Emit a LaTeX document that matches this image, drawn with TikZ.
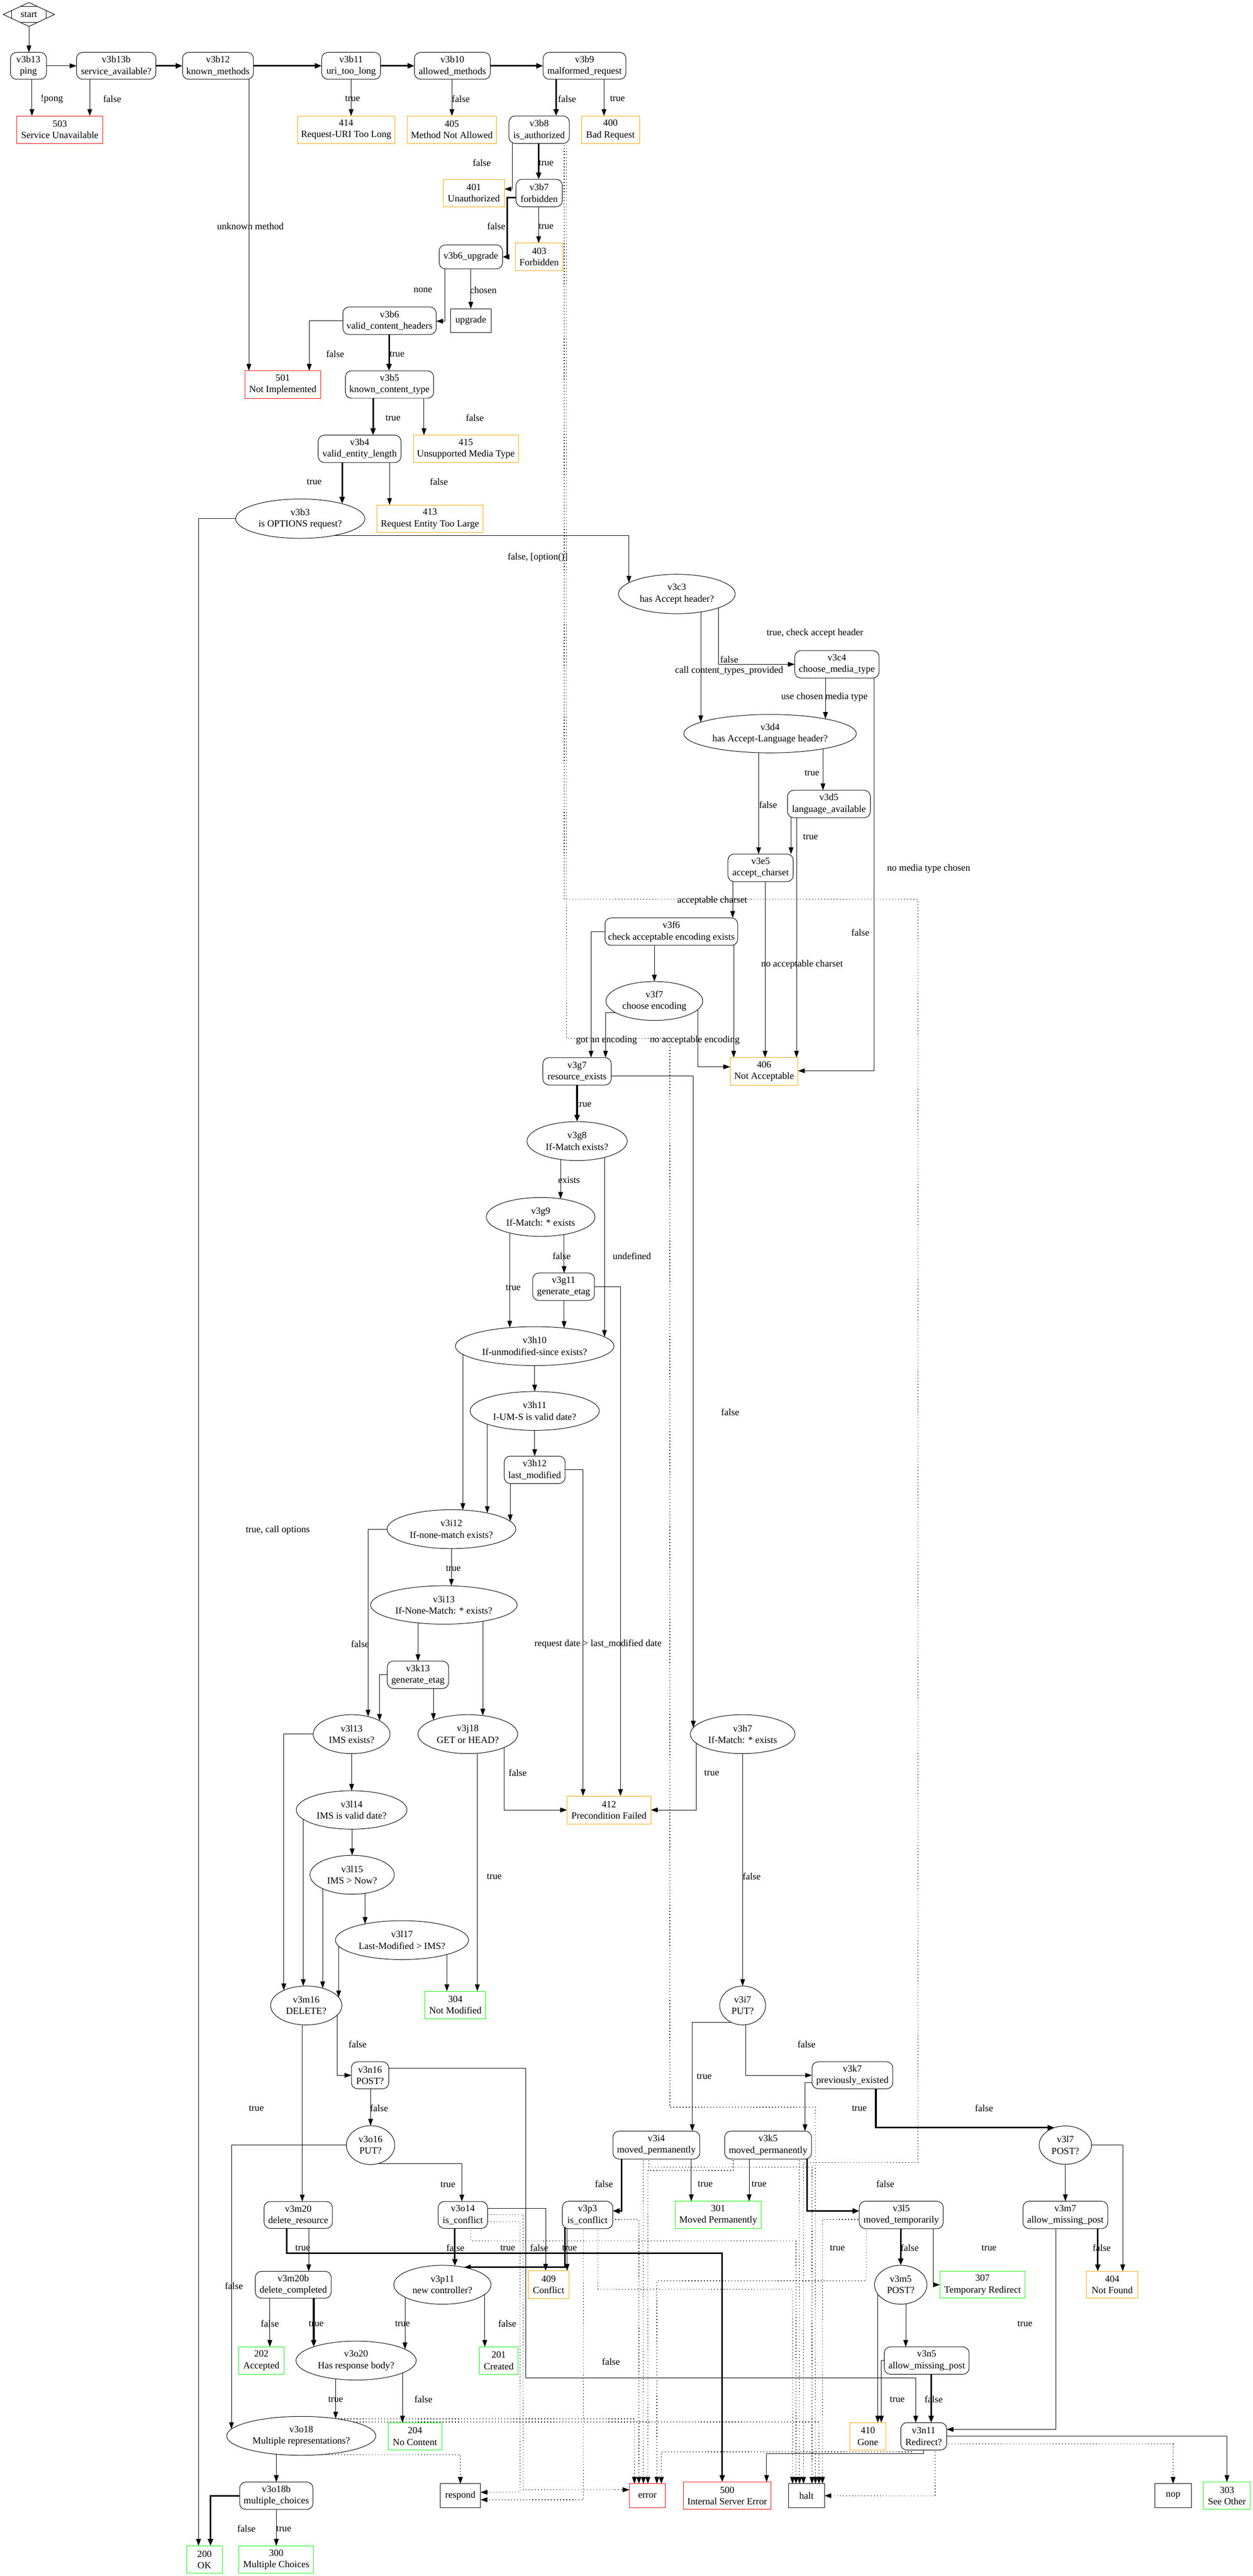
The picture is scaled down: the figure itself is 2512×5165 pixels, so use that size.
\documentclass[tikz,border=0pt]{standalone}
\usepackage{fontspec}
\setmainfont{Liberation Serif}
\usetikzlibrary{shapes.geometric,arrows.meta,calc}
\pgfdeclarelayer{bg}
\pgfsetlayers{bg,main}
\definecolor{stred}{RGB}{255,0,0}
\definecolor{storange}{RGB}{255,165,0}
\definecolor{stgreen}{RGB}{0,255,0}
\newcommand{\fs}{\fontsize{14}{16.8}\selectfont}
\newcommand{\etop}[5]{\coordinate (#1) at ($(#2)+(#3,{-#5*sqrt(1-((#3)/(#4))^2)})$);}
\tikzset{
 base/.style={draw, fill=white, font=\fs, align=center, inner sep=0pt, outer sep=0pt, line width=0.75pt},
 dec/.style={base, rounded corners=9pt},
 ell/.style={base, ellipse},
 sz/.style 2 args={minimum width=#1*0.73pt, minimum height=#2*0.73pt},
 rbox/.style={base, draw=stred},
 obox/.style={base, draw=storange},
 gbox/.style={base, draw=stgreen},
 kbox/.style={base},
 lbl/.style={font=\fs, inner sep=0pt},
 e/.style={line width=0.75pt, -{Triangle[length=10pt,width=7pt]}},
 thk/.style={line width=2.4pt, -{Triangle[length=10pt,width=7.5pt]}},
 dot/.style={line width=0.95pt, dash pattern=on 1.1pt off 3.4pt, -{Triangle[length=10pt,width=7pt]}},
}
\begin{document}
\begin{tikzpicture}[x=0.73pt,y=-0.73pt]
\useasboundingbox (0,0) rectangle (2512,5165);
% ---------- nodes ----------
\node[base, diamond, aspect=2.1, sz={103}{48}] (start) at (58,29) {start};
\draw[line width=0.75pt] ($(start.north)+(-17,8)$) -- ($(start.north)+(17,8)$)
  ($(start.south)+(-17,-8)$) -- ($(start.south)+(17,-8)$)
  ($(start.west)+(17,-8)$) -- ($(start.west)+(17,8)$)
  ($(start.east)+(-17,-8)$) -- ($(start.east)+(-17,8)$);
\node[dec,sz={72}{54}] (v3b13) at (57,132) {v3b13\\ping};
\node[dec,sz={159}{54}] (v3b13b) at (233,132) {v3b13b\\service\_available?};
\node[dec,sz={142}{54}] (v3b12) at (437,132) {v3b12\\known\_methods};
\node[dec,sz={118}{54}] (v3b11) at (704,132) {v3b11\\uri\_too\_long};
\node[dec,sz={152}{54}] (v3b10) at (907,132) {v3b10\\allowed\_methods};
\node[dec,sz={166}{54}] (v3b9) at (1172,132) {v3b9\\malformed\_request};
\node[rbox,sz={172}{55}] (s503) at (120,260) {503\\Service Unavailable};
\node[obox,sz={195}{55}] (s414) at (694,260) {414\\Request-URI Too Long};
\node[obox,sz={179}{55}] (s405) at (906,260) {405\\Method Not Allowed};
\node[dec,sz={121}{55}] (v3b8) at (1081,260) {v3b8\\is\_authorized};
\node[obox,sz={116}{55}] (s400) at (1224,260) {400\\Bad Request};
\node[obox,sz={123}{55}] (s401) at (950,387) {401\\Unauthorized};
\node[dec,sz={93}{55}] (v3b7) at (1081,387) {v3b7\\forbidden};
\node[obox,sz={96}{55}] (s403) at (1081,515) {403\\Forbidden};
\node[dec,sz={127}{48}] (v3b6u) at (944,515) {v3b6\_upgrade};
\node[kbox,sz={81}{48}] (upgrade) at (944,643) {upgrade};
\node[dec,sz={187}{55}] (v3b6) at (781,643) {v3b6\\valid\_content\_headers};
\node[rbox,sz={152}{55}] (s501) at (567,771) {501\\Not Implemented};
\node[dec,sz={177}{55}] (v3b5) at (781,771) {v3b5\\known\_content\_type};
\node[dec,sz={166}{55}] (v3b4) at (721,900) {v3b4\\valid\_entity\_length};
\node[obox,sz={211}{55}] (s415) at (934,900) {415\\Unsupported Media Type};
\node[ell,sz={259}{79}] (v3b3) at (602,1040) {v3b3\\is OPTIONS request?};
\node[obox,sz={212}{55}] (s413) at (862,1040) {413\\Request Entity Too Large};
\node[ell,sz={234}{79}] (v3c3) at (1357,1191) {v3c3\\has Accept header?};
\node[dec,sz={169}{55}] (v3c4) at (1678,1332) {v3c4\\choose\_media\_type};
\node[ell,sz={346}{77}] (v3d4) at (1544,1471) {v3d4\\has Accept-Language header?};
\node[dec,sz={166}{55}] (v3d5) at (1662,1612) {v3d5\\language\_available};
\node[dec,sz={131}{55}] (v3e5) at (1525,1740) {v3e5\\accept\_charset};
\node[dec,sz={266}{55}] (v3f6) at (1346,1868) {v3f6\\check acceptable encoding exists};
\node[ell,sz={194}{78}] (v3f7) at (1312,2007) {v3f7\\choose encoding};
\node[dec,sz={137}{55}] (v3g7) at (1157,2148) {v3g7\\resource\_exists};
\node[obox,sz={136}{55}] (s406) at (1532,2148) {406\\Not Acceptable};
\node[ell,sz={201}{78}] (v3g8) at (1157,2288) {v3g8\\If-Match exists?};
\node[ell,sz={218}{78}] (v3g9) at (1084,2440) {v3g9\\If-Match: * exists};
\node[dec,sz={124}{55}] (v3g11) at (1130,2580) {v3g11\\generate\_etag};
\node[ell,sz={318}{78}] (v3h10) at (1072,2699) {v3h10\\If-unmodified-since exists?};
\node[ell,sz={259}{78}] (v3h11) at (1072,2829) {v3h11\\I-UM-S is valid date?};
\node[dec,sz={122}{55}] (v3h12) at (1072,2947) {v3h12\\last\_modified};
\node[ell,sz={258}{78}] (v3i12) at (905,3066) {v3i12\\If-none-match exists?};
\node[ell,sz={294}{77}] (v3i13) at (890,3218) {v3i13\\If-None-Match: * exists?};
\node[dec,sz={123}{55}] (v3k13) at (838,3358) {v3k13\\generate\_etag};
\node[ell,sz={154}{78}] (v3l13) at (705,3477) {v3l13\\IMS exists?};
\node[ell,sz={200}{78}] (v3j18) at (938,3477) {v3j18\\GET or HEAD?};
\node[ell,sz={210}{78}] (v3h7) at (1489,3477) {v3h7\\If-Match: * exists};
\node[obox,sz={168}{56}] (s412) at (1221,3629) {412\\Precondition Failed};
\node[ell,sz={222}{77}] (v3l14) at (705,3629) {v3l14\\IMS is valid date?};
\node[ell,sz={169}{78}] (v3l15) at (706,3759) {v3l15\\IMS > Now?};
\node[ell,sz={267}{78}] (v3l17) at (806,3890) {v3l17\\Last-Modified > IMS?};
\node[ell,sz={143}{78}] (v3m16) at (614,4021) {v3m16\\DELETE?};
\node[gbox,sz={122}{55}] (s304) at (913,4020) {304\\Not Modified};
\node[ell,sz={92}{78}] (v3i7) at (1489,4021) {v3i7\\PUT?};
\node[dec,sz={162}{54}] (v3k7) at (1709,4161) {v3k7\\previously\_existed};
\node[dec,sz={75}{54}] (v3n16) at (742,4161) {v3n16\\POST?};
\node[ell,sz={97}{78}] (v3o16) at (743,4301) {v3o16\\PUT?};
\node[dec,sz={174}{56}] (v3i4) at (1316,4301) {v3i4\\moved\_permanently};
\node[dec,sz={174}{56}] (v3k5) at (1540,4301) {v3k5\\moved\_permanently};
\node[ell,sz={105}{77}] (v3l7) at (2136,4301) {v3l7\\POST?};
\node[dec,sz={137}{54}] (v3m20) at (598,4441) {v3m20\\delete\_resource};
\node[dec,sz={99}{54}] (v3o14) at (928,4441) {v3o14\\is\_conflict};
\node[dec,sz={101}{55}] (v3p3) at (1178,4441) {v3p3\\is\_conflict};
\node[gbox,sz={172}{55}] (s301) at (1440,4441) {301\\Moved Permanently};
\node[dec,sz={168}{55}] (v3l5) at (1807,4441) {v3l5\\moved\_temporarily};
\node[dec,sz={170}{55}] (v3m7) at (2136,4441) {v3m7\\allow\_missing\_post};
\node[dec,sz={152}{54}] (v3m20b) at (588,4581) {v3m20b\\delete\_completed};
\node[ell,sz={195}{78}] (v3p11) at (887,4581) {v3p11\\new controller?};
\node[obox,sz={81}{56}] (s409) at (1100,4581) {409\\Conflict};
\node[ell,sz={105}{78}] (v3m5) at (1806,4581) {v3m5\\POST?};
\node[gbox,sz={171}{54}] (s307) at (1970,4581) {307\\Temporary Redirect};
\node[obox,sz={103}{54}] (s404) at (2230,4581) {404\\Not Found};
\node[gbox,sz={91}{55}] (s202) at (524,4733) {202\\Accepted};
\node[ell,sz={241}{78}] (v3o20) at (714,4733) {v3o20\\Has response body?};
\node[gbox,sz={78}{55}] (s201) at (1000,4733) {201\\Created};
\node[dec,sz={170}{55}] (v3n5) at (1858,4733) {v3n5\\allow\_missing\_post};
\node[ell,sz={299}{78}] (v3o18) at (604,4884) {v3o18\\Multiple representations?};
\node[gbox,sz={108}{55}] (s204) at (832,4885) {204\\No Content};
\node[obox,sz={72}{55}] (s410) at (1740,4885) {410\\Gone};
\node[dec,sz={92}{55}] (v3n11) at (1852,4885) {v3n11\\Redirect?};
\node[dec,sz={147}{55}] (v3o18b) at (554,5004) {v3o18b\\multiple\_choices};
\node[kbox,sz={81}{48}] (respond) at (923,5004) {respond};
\node[rbox,sz={72}{48}] (error) at (1298,5004) {error};
\node[rbox,sz={176}{55}] (s500) at (1458,5004) {500\\Internal Server Error};
\node[kbox,sz={72}{48}] (halt) at (1617,5004) {halt};
\node[kbox,sz={73}{48}] (nop) at (2352,5004) {nop};
\node[gbox,sz={94}{55}] (s303) at (2460,5004) {303\\See Other};
\node[gbox,sz={72}{55}] (s200) at (410,5132) {200\\OK};
\node[gbox,sz={150}{55}] (s300) at (554,5132) {300\\Multiple Choices};
% ---------- ellipse entry points ----------
\etop{a24}{v3b3}{84}{129.5}{39.5}
\etop{a27}{v3c3}{-96}{117}{39.5}
\etop{a29}{v3d4}{-139}{173}{38.5}
\etop{a30}{v3d4}{111}{173}{38.5}
\etop{a44}{v3h7}{-99}{105}{39}
\etop{a45}{v3g9}{40}{109}{39}
\etop{a46}{v3h10}{140}{159}{39}
\etop{a47}{v3h10}{-50}{159}{39}
\etop{a49}{v3h10}{59}{159}{39}
\etop{a52}{v3i12}{23}{129}{39}
\etop{a53}{v3i12}{72}{129}{39}
\etop{a55}{v3i12}{118}{129}{39}
\etop{a57}{v3l13}{33}{77}{39}
\etop{a58}{v3i13}{15}{147}{38.5}
\etop{a60}{v3j18}{30}{100}{39}
\etop{a61}{v3l13}{56}{77}{39}
\etop{a62}{v3j18}{-69}{100}{39}
\etop{a68}{v3m16}{-45}{71.5}{39}
\etop{a70}{v3m16}{-6}{71.5}{39}
\etop{a71}{v3l17}{-74}{133.5}{39}
\etop{a72}{v3m16}{33}{71.5}{39}
\etop{a73}{v3m16}{65}{71.5}{39}
\etop{a80}{v3o18}{-140}{149.5}{39}
\etop{a83}{v3p11}{25}{97.5}{39}
\etop{a87}{v3o20}{98}{120.5}{39}
\etop{a90}{v3o20}{-85}{120.5}{39}
\etop{a91}{v3o18}{69}{149.5}{39}
\coordinate (a85) at ($(v3p11)+({97.5*sqrt(1-(35/39)^2)},-35)$);
\coordinate (a100) at ($(v3l7)+({-52.5*sqrt(1-(35/38.5)^2)},-35)$);
% ---------- edges ----------
\begin{pgfonlayer}{bg}
\draw[e] (start.south) -- (start.south |- v3b13.north);
\draw[e] (v3b13.east) -- (v3b13b.west);
\draw[thk] (v3b13b.east) -- (v3b12.west);
\draw[thk] (v3b12.east) -- (v3b11.west);
\draw[thk] (v3b11.east) -- (v3b10.west);
\draw[thk] (v3b10.east) -- (v3b9.west);
\draw[e] (v3b13.center -| 64,0) -- (s503.north -| 64,0);
\draw[e] (v3b13b.center -| 180,0) -- (s503.north -| 180,0);
\draw[e] (v3b12.center -| 499,0) -- (s501.north -| 499,0);
\draw[e] (v3b11.center -| 704,0) -- (s414.north -| 704,0);
\draw[e] (v3b10.center -| 906,0) -- (s405.north -| 906,0);
\draw[thk] (v3b9.center -| 1115,0) -- (v3b8.north -| 1115,0);
\draw[e] (v3b9.center -| 1211,0) -- (s400.north -| 1211,0);
\draw[e] (v3b8.center -| 1027,0) -- (1027,379) -- (s401.east |- 0,379);
\draw[thk] (v3b8.center -| 1080,0) -- (v3b7.north -| 1080,0);
\draw[thk] (v3b7.center |- 0,396) -- (1017,396) -- (1017,515) -- (v3b6u.east);
\draw[e] (v3b7.center -| 1080,0) -- (s403.north -| 1080,0);
\draw[e] (v3b6u.center -| 892,0) -- (892,644) -- (v3b6.east |- 0,644);
\draw[e] (v3b6u.center) -- (upgrade.north);
\draw[e] (v3b6.center) -| (s501.north -| 620,0);
\draw[thk] (v3b6.center -| 780,0) -- (v3b5.north -| 780,0);
\draw[thk] (v3b5.center -| 748,0) -- (v3b4.north -| 748,0);
\draw[e] (v3b5.center -| 850,0) -- (s415.north -| 850,0);
\draw[thk] (v3b4.center -| 686,0) -- (a24);
\draw[e] (v3b4.center -| 781,0) -- (s413.north -| 781,0);
\draw[e] (v3b3.center) -| (s200.north -| 398,0);
\draw[e] (v3b3.center |- 0,1074) -- (1261,1074) -- (a27);
\draw[e] (v3c3.center -| 1440,0) -- (1440,1332) -- (v3c4.west);
\draw[e] (v3c3.center -| 1405,0) -- (a29);
\draw[e] (v3c4.center -| 1655,0) -- (a30);
\draw[e] (v3c4.center -| 1752,0) -- (1752,2147) -- (s406.east |- 0,2147);
\draw[e] (v3d4.center -| 1650,0) -- (v3d5.north -| 1650,0);
\draw[e] (v3d4.center -| 1521,0) -- (v3e5.north -| 1521,0);
\draw[e] (v3d5.center -| 1586,0) -- (v3e5.north -| 1586,0);
\draw[e] (v3d5.center -| 1597,0) -- (s406.north -| 1597,0);
\draw[e] (v3e5.center -| 1469,0) -- (v3f6.north -| 1469,0);
\draw[e] (v3e5.center -| 1534,0) -- (s406.north -| 1534,0);
\draw[e] (v3f6.center -| 1312,0) -- (v3f7.north);
\draw[e] (v3f6.center -| 1471,0) -- (s406.north -| 1471,0);
\draw[e] (v3f6.center) -| (v3g7.north -| 1185,0);
\draw[e] (v3f7.center |- 0,2030) -| (v3g7.north -| 1214,0);
\draw[e] (v3f7.center -| 1399,0) -- (1399,2139) -- (s406.west |- 0,2139);
\draw[thk] (v3g7.south) -- (v3g8.north);
\draw[e] (v3g7.center |- 0,2157) -- (1390,2157) -- (a44);
\draw[e] (v3g8.center -| 1124,0) -- (a45);
\draw[e] (v3g8.center -| 1212,0) -- (a46);
\draw[e] (v3g9.center -| 1022,0) -- (a47);
\draw[e] (v3g9.center -| 1131,0) -- (v3g11.north -| 1131,0);
\draw[e] (v3g11.center -| 1131,0) -- (a49);
\draw[e] (v3g11.center) -| (s412.north -| 1244,0);
\draw[e] (v3h10.center) -- (v3h11.north);
\draw[e] (v3h10.center -| 928,0) -- (a52);
\draw[e] (v3h11.center -| 977,0) -- (a53);
\draw[e] (v3h11.center) -- (v3h12.north);
\draw[e] (v3h12.center -| 1023,0) -- (a55);
\draw[e] (v3h12.center) -| (s412.north -| 1169,0);
\draw[e] (v3i12.center) -| (a57);
\draw[e] (v3i12.center) -- (a58);
\draw[e] (v3i13.center -| 838,0) -- (v3k13.north);
\draw[e] (v3i13.center -| 968,0) -- (a60);
\draw[e] (v3k13.center) -| (a61);
\draw[e] (v3k13.center -| 869,0) -- (a62);
\draw[e] (v3j18.center -| 1011,0) -- (1011,3629) -- (s412.west);
\draw[e] (v3j18.center -| 957,0) -- (s304.north -| 957,0);
\draw[e] (v3h7.center -| 1396,0) -- (1396,3629) -- (s412.east);
\draw[e] (v3h7.center) -- (v3i7.north);
\draw[e] (v3l13.center) -- (v3l14.north);
\draw[e] (v3l13.center) -| (a68);
\draw[e] (v3l14.center -| 706,0) -- (v3l15.north);
\draw[e] (v3l14.center -| 608,0) -- (a70);
\draw[e] (v3l15.center -| 732,0) -- (a71);
\draw[e] (v3l15.center -| 647,0) -- (a72);
\draw[e] (v3l17.center -| 679,0) -- (a73);
\draw[e] (v3l17.center -| 896,0) -- (s304.north -| 896,0);
\draw[e] (v3m16.center -| 676,0) -- (676,4161) -- (v3n16.west);
\draw[e] (v3m16.center -| 606,0) -- (v3m20.north -| 606,0);
\draw[e] (v3n16.center -| 743,0) -- (v3o16.north);
\draw[e] (v3n16.center |- 0,4147) -- (1054,4147) -- (1054,4768) -- (1836,4768) -- (v3n11.north -| 1836,0);
\draw[e] (v3o16.center |- 0,4338) -- (926,4338) -- (v3o14.north -| 926,0);
\draw[e] (v3o16.center) -| (a80);
\draw[e] (v3m20.center -| 619,0) -- (v3m20b.north -| 619,0);
\draw[thk] (v3m20.center -| 575,0) -- (575,4518) -- (1448,4518) -- (s500.north -| 1448,0);
\draw[thk] (v3o14.center -| 912,0) -- (a83);
\draw[e] (v3o14.center |- 0,4428) -- (1094,4428) -- (s409.north -| 1094,0);
\draw[thk] (v3p3.center -| 1133,0) -- (1133,4546) -- (a85);
\draw[e] (v3p3.center -| 1137,0) -- (s409.north -| 1137,0);
\draw[e] (v3p11.center -| 812,0) -- (a87);
\draw[e] (v3p11.center -| 972,0) -- (s201.north -| 972,0);
\draw[e] (v3m20b.center -| 541,0) -- (s202.north -| 541,0);
\draw[thk] (v3m20b.center -| 629,0) -- (a90);
\draw[e] (v3o20.center -| 673,0) -- (a91);
\draw[e] (v3o20.center -| 807,0) -- (s204.north -| 807,0);
\draw[e] (v3o18.center -| 554,0) -- (v3o18b.north -| 554,0);
\draw[dot] (v3o18.center |- 0,4922) -- (923,4922) -- (respond.north);
\draw[thk] (v3o18b.center) -| (s200.north -| 422,0);
\draw[e] (v3o18b.center) -- (s300.north);
\draw[e] (v3i7.center |- 0,4055) -- (1388,4055) -- (v3i4.north -| 1388,0);
\draw[e] (v3i7.center -| 1495,0) -- (1495,4161) -- (v3k7.west);
\draw[e] (v3k7.center |- 0,4176) -- (1614,4176) -- (v3k5.north -| 1614,0);
\draw[thk] (v3k7.center -| 1756,0) -- (1756,4266) -- (a100);
\draw[thk] (v3i4.center -| 1246,0) -- (1246,4433) -- (v3p3.east |- 0,4433);
\draw[e] (v3i4.center -| 1386,0) -- (s301.north -| 1386,0);
\draw[e] (v3k5.center -| 1502,0) -- (s301.north -| 1502,0);
\draw[thk] (v3k5.center -| 1618,0) -- (1618,4433) -- (v3l5.west |- 0,4433);
\draw[thk] (v3l5.center -| 1806,0) -- (v3m5.north);
\draw[e] (v3l5.center -| 1871,0) -- (1871,4581) -- (s307.west);
\draw[e] (v3l7.center) -- (v3m7.north);
\draw[e] (v3l7.center) -| (s404.north -| 2251,0);
\draw[thk] (v3m7.center -| 2201,0) -- (s404.north -| 2201,0);
\draw[e] (v3m7.center -| 2117,0) -- (2117,4871) -- (v3n11.east |- 0,4871);
\draw[e] (v3m5.center -| 1760,0) -- (s410.north -| 1760,0);
\draw[e] (v3m5.center -| 1816,0) -- (v3n5.north -| 1816,0);
\draw[e] (v3n5.center) -| (s410.north -| 1767,0);
\draw[thk] (v3n5.center -| 1867,0) -- (v3n11.north -| 1867,0);
\draw[e] (v3n11.center |- 0,4884) -| (s303.north);
\draw[dot] (v3n11.center |- 0,4900) -| (nop.north);
\draw[e] (v3n11.center -| 1852,0) -- (1852,4920) -- (1537,4920) -- (s500.north -| 1537,0);
\draw[dot] (v3n11.center -| 1875,0) -- (1875,5004) -- (halt.east);
% dotted halt / error paths
\draw[dot] (v3b8.center -| 1136,0) -- (1136,2082) -- (1343,2082) -- (1343,4225) -- (1635,4225) -- (halt.north -| 1635,0);
\draw[dot] (v3b8.center -| 1131,0) -- (1131,1803) -- (1840,1803) -- (1840,4336) -- (1611,4336) -- (halt.north -| 1611,0);
\draw[dot] (v3i4.center -| 1290,0) -- (error.north -| 1290,0);
\draw[dot] (v3i4.center -| 1301,0) -- (1301,4345) -- (1628,4345) -- (halt.north -| 1628,0);
\draw[dot] (v3k5.center -| 1470,0) -- (1470,4352) -- (1299,4352) -- (error.north -| 1299,0);
\draw[dot] (v3k5.center -| 1603,0) -- (halt.north -| 1603,0);
\draw[dot] (v3p3.center |- 0,4450) -- (1281,4450) -- (error.north -| 1281,0);
\draw[dot] (v3p3.center -| 1199,0) -- (1199,4590) -- (1589,4590) -- (halt.north -| 1589,0);
\draw[dot] (v3p3.center -| 1170,0) -- (1170,5012) -- (respond.east |- 0,5012);
\draw[dot] (v3o14.center -| 944,0) -- (944,4493) -- (1596,4493) -- (halt.north -| 1596,0);
\draw[dot] (v3o14.center |- 0,4440) -- (1049,4440) -- (1049,4992) -- (error.west |- 0,4992);
\draw[dot] (v3o14.center |- 0,4455) -- (1043,4455) -- (1043,4997) -- (respond.east |- 0,4997);
\draw[dot] (v3o18.center |- 0,4850) -- (1272,4850) -- (error.north -| 1272,0);
\draw[dot] (v3o18.center |- 0,4856) -- (1642,4856) -- (halt.north -| 1642,0);
\draw[dot] (v3l5.center -| 1737,0) -- (1737,4573) -- (1317,4573) -- (error.north -| 1317,0);
\draw[dot] (v3l5.center |- 0,4450) -- (1649,4450) -- (halt.north -| 1649,0);
\draw[dot] (v3n11.center -| 1828,0) -- (1828,4916) -- (1326,4916) -- (error.north -| 1326,0);
\end{pgfonlayer}
% ---------- labels ----------
\node[lbl] (lb1) at (104,199) {!pong};
\node[lbl] (lb2) at (225,198) {false};
\node[lbl] (lb3) at (502,454) {unknown method};
\node[lbl] (lb4) at (707,198) {true};
\node[lbl] (lb5) at (924,198) {false};
\node[lbl] (lb6) at (1137,198) {false};
\node[lbl] (lb7) at (1238,198) {true};
\node[lbl] (lb8) at (966,326) {false};
\node[lbl] (lb9) at (1095,327) {true};
\node[lbl] (lb10) at (995,454) {false};
\node[lbl] (lb11) at (1095,454) {true};
\node[lbl] (lb12) at (848,582) {none};
\node[lbl] (lb13) at (969,582) {chosen};
\node[lbl] (lb14) at (672,710) {false};
\node[lbl] (lb15) at (796,710) {true};
\node[lbl] (lb16) at (788,838) {true};
\node[lbl] (lb17) at (952,838) {false};
\node[lbl] (lb18) at (630,966) {true};
\node[lbl] (lb19) at (880,966) {false};
\node[lbl] (lb20) at (1078,1118) {false, [option()]};
\node[lbl] (lb21) at (1634,1270) {true, check accept header};
\node[lbl] (lb22) at (1462,1322) {false};
\node[lbl] (lb23) at (1462,1345) {call content\_types\_provided};
\node[lbl] (lb24) at (1653,1398) {use chosen media type};
\node[lbl] (lb25) at (1628,1550) {true};
\node[lbl] (lb26) at (1540,1614) {false};
\node[lbl] (lb27) at (1625,1678) {true};
\node[lbl] (lb28) at (1862,1742) {no media type chosen};
\node[lbl] (lb29) at (1428,1806) {acceptable charset};
\node[lbl] (lb30) at (1725,1870) {false};
\node[lbl] (lb31) at (1608,1934) {no acceptable charset};
\node[lbl] (lb32) at (1216,2086) {got an encoding};
\node[lbl] (lb33) at (1393,2086) {no acceptable encoding};
\node[lbl] (lb34) at (1171,2214) {true};
\node[lbl] (lb35) at (1141,2366) {exists};
\node[lbl] (lb36) at (1267,2518) {undefined};
\node[lbl] (lb37) at (1126,2518) {false};
\node[lbl] (lb38) at (1029,2582) {true};
\node[lbl] (lb39) at (1464,2831) {false};
\node[lbl] (lb40) at (557,3068) {true, call options};
\node[lbl] (lb41) at (909,3145) {true};
\node[lbl] (lb42) at (722,3296) {false};
\node[lbl] (lb43) at (1199,3296) {request date > last\_modified date};
\node[lbl] (lb44) at (1038,3555) {false};
\node[lbl] (lb45) at (1427,3555) {true};
\node[lbl] (lb46) at (991,3762) {true};
\node[lbl] (lb47) at (1507,3762) {false};
\node[lbl] (lb48) at (717,4099) {false};
\node[lbl] (lb49) at (1617,4099) {false};
\node[lbl] (lb50) at (1412,4163) {true};
\node[lbl] (lb51) at (514,4227) {true};
\node[lbl] (lb52) at (760,4227) {false};
\node[lbl] (lb53) at (1723,4227) {true};
\node[lbl] (lb54) at (1973,4227) {false};
\node[lbl] (lb55) at (898,4380) {true};
\node[lbl] (lb56) at (1211,4379) {false};
\node[lbl] (lb57) at (1414,4379) {true};
\node[lbl] (lb58) at (1522,4379) {true};
\node[lbl] (lb59) at (1775,4379) {false};
\node[lbl] (lb60) at (607,4507) {true};
\node[lbl] (lb61) at (913,4507) {false};
\node[lbl] (lb62) at (1018,4507) {true};
\node[lbl] (lb63) at (1081,4507) {false};
\node[lbl] (lb64) at (1142,4507) {true};
\node[lbl] (lb65) at (1679,4507) {true};
\node[lbl] (lb66) at (1824,4507) {false};
\node[lbl] (lb67) at (1983,4507) {true};
\node[lbl] (lb68) at (2209,4507) {false};
\node[lbl] (lb69) at (469,4583) {false};
\node[lbl] (lb70) at (541,4659) {false};
\node[lbl] (lb71) at (634,4659) {true};
\node[lbl] (lb72) at (807,4659) {true};
\node[lbl] (lb73) at (1017,4659) {false};
\node[lbl] (lb74) at (2055,4659) {true};
\node[lbl] (lb75) at (1225,4735) {false};
\node[lbl] (lb76) at (673,4811) {true};
\node[lbl] (lb77) at (849,4811) {false};
\node[lbl] (lb78) at (1799,4811) {true};
\node[lbl] (lb79) at (1872,4811) {false};
\node[lbl] (lb80) at (494,5070) {false};
\node[lbl] (lb81) at (569,5070) {true};
\end{tikzpicture}
\end{document}
